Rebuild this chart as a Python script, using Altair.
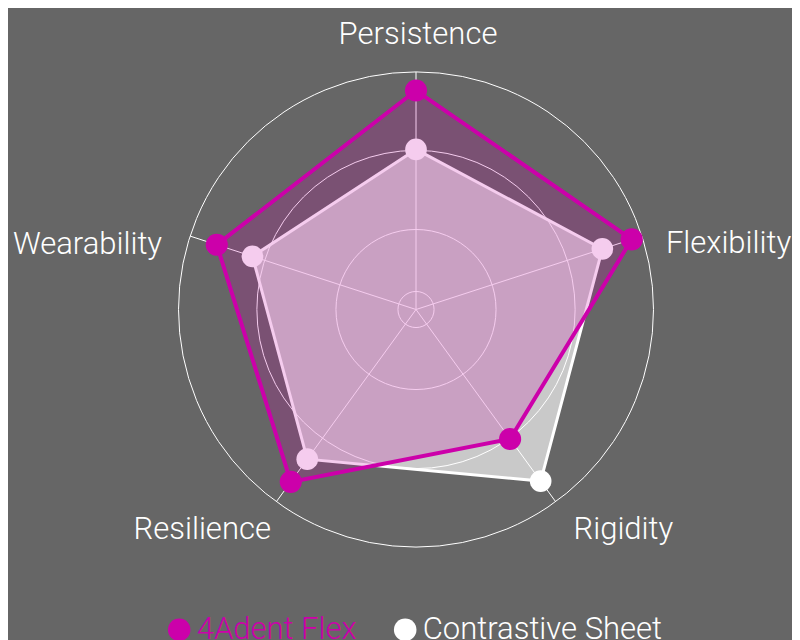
import altair as alt
import pandas as pd

# ---- data -------------------------------------------------------------
categories = ["Persistence", "Flexibility", "Rigidity", "Resilience", "Wearability"]
flex_values = [92.2, 95.5, 67.4, 89.7, 88.2]
contrast_values = [67.4, 82.5, 89.3, 77.9, 72.4]
series_names = ["4Adent Flex", "Contrastive Sheet"]
series_colors = ["#cc00aa", "#ffffff"]
grid_levels = [7.6, 33.7, 67.0, 100.0]

# ---- layout constants -------------------------------------------------
BG = "#666666"
MAGENTA = series_colors[0]
W, H = 784, 632
CX, CY = 408.0, 301.5          # centre of the radar in chart pixels
K = 2.375                      # pixels per value unit
RMAX = 100.0
LABEL_R = 268 / K
STEP = 360 / len(categories)
FONT = "Roboto"
FS = 31
FW = 300

xs = alt.Scale(domain=[-CX / K, (W - CX) / K], nice=False, zero=False)
ys = alt.Scale(domain=[-(H - CY) / K, CY / K], nice=False, zero=False)


def polygon_df(values, name):
    rows = [dict(series=name, category=c, idx=i, value=v)
            for i, (c, v) in enumerate(zip(categories, values))]
    rows.append(dict(rows[0], idx=len(categories)))
    return pd.DataFrame(rows)


def polar(chart, rfield="datum.value"):
    return chart.transform_calculate(
        angle=f"(90 - {STEP} * datum.idx) * PI / 180"
    ).transform_calculate(
        x=f"{rfield} * cos(datum.angle)",
        y=f"{rfield} * sin(datum.angle)",
    )


X = alt.X("x:Q", scale=xs, axis=None)
Y = alt.Y("y:Q", scale=ys, axis=None)

color = alt.Color(
    "series:N",
    scale=alt.Scale(domain=series_names, range=series_colors),
    legend=alt.Legend(
        title=None, orient="none", legendX=155.7, legendY=606,
        direction="horizontal", symbolType="circle", symbolSize=510,
        symbolStrokeWidth=0, labelFont=FONT, labelFontSize=FS, labelFontWeight=FW,
        labelOffset=2, columnPadding=33, padding=0, labelLimit=0,
        labelColor={"expr": f"datum.label == '{series_names[0]}' ? '{MAGENTA}' : '#ffffff'"},
    ),
)

# grid circles
grid_df = pd.DataFrame({"level": grid_levels})
grid = alt.Chart(grid_df).transform_calculate(
    x="0", y="0", sz=f"pow(2 * datum.level * {K}, 2)"
).mark_point(shape="circle", filled=False, stroke="#ffffff", strokeWidth=1, opacity=1).encode(
    x=X, y=Y, size=alt.Size("sz:Q", scale=None, legend=None)
)

# spokes
spoke_df = pd.DataFrame({"category": categories, "idx": list(range(len(categories))), "value": RMAX})
spokes = polar(alt.Chart(spoke_df)).transform_calculate(x0="0", y0="0").mark_rule(
    color="#ffffff", strokeWidth=1
).encode(x=alt.X("x0:Q", scale=xs, axis=None), y=alt.Y("y0:Q", scale=ys, axis=None),
         x2="x:Q", y2="y:Q")

contrast_df = polygon_df(contrast_values, series_names[1])
flex_df = polygon_df(flex_values, series_names[0])

contrast_area = polar(alt.Chart(contrast_df)).mark_line(
    fill="#ffffff", fillOpacity=0.65, stroke="#ffffff", strokeWidth=3
).encode(x=X, y=Y, order="idx:Q")
contrast_pts = polar(alt.Chart(contrast_df)).transform_filter(
    f"datum.idx < {len(categories)}"
).mark_circle(size=470, opacity=1).encode(x=X, y=Y, color=color)

flex_area = polar(alt.Chart(flex_df)).mark_line(
    fill=MAGENTA, fillOpacity=0.2, stroke=MAGENTA, strokeWidth=4
).encode(x=X, y=Y, order="idx:Q")
flex_pts = polar(alt.Chart(flex_df)).transform_filter(
    f"datum.idx < {len(categories)}"
).mark_circle(size=490, opacity=1).encode(x=X, y=Y, color=color)

# axis labels
label_df = pd.DataFrame({"category": categories, "idx": list(range(len(categories))), "value": LABEL_R})
label_style = {
    "Persistence": dict(align="center", dx=2, dy=2),
    "Flexibility": dict(align="left", dx=-5, dy=26.5),
    "Rigidity": dict(align="left", dx=0, dy=13),
    "Resilience": dict(align="right", dx=12.5, dy=13),
    "Wearability": dict(align="right", dx=1, dy=27.5),
}
labels = []
for c in categories:
    st = label_style[c]
    labels.append(
        polar(alt.Chart(label_df)).transform_filter(alt.datum.category == c).mark_text(
            font=FONT, fontSize=FS, fontWeight=FW, color="#ffffff", baseline="alphabetic", **st
        ).encode(x=X, y=Y, text="category:N")
    )

chart = alt.layer(
    grid, spokes, contrast_area, contrast_pts, flex_area, flex_pts, *labels
).properties(
    width=W, height=H, background=BG, padding=0,
    autosize=alt.AutoSizeParams(type="none"),
).configure_view(stroke=None)

chart.save("out.html", embed_options={"renderer": "svg", "actions": False})
